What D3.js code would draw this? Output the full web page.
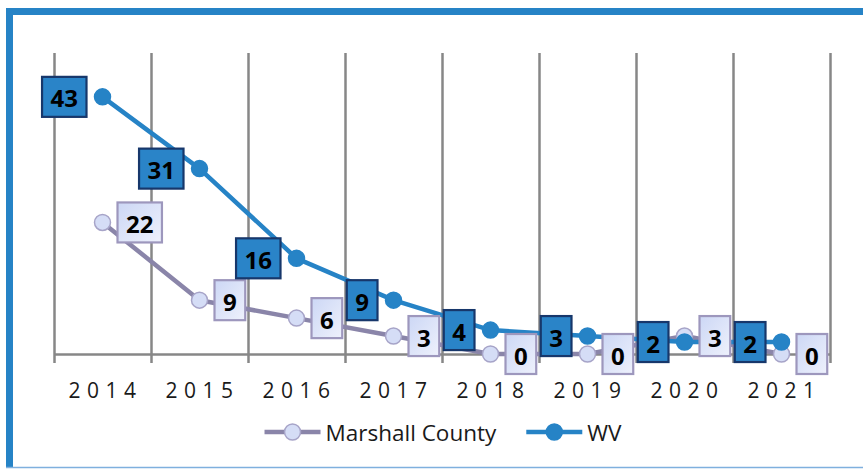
<!DOCTYPE html>
<html>
<head>
<meta charset="utf-8">
<script src="https://cdn.jsdelivr.net/npm/d3@7"></script>
<style>
  body { margin: 0; background: #fff; }
  svg { display: block; }
</style>
</head>
<body>
<div id="chart"></div>
<script>
// data
const years = ['2014', '2015', '2016', '2017', '2018', '2019', '2020', '2021'];
const marshall = [22, 9, 6, 3, 0, 0, 3, 0];
const wv = [43, 31, 16, 9, 4, 3, 2, 2];
const seriesNames = ['Marshall County', 'WV'];

const W = 863, H = 470;
const plotL = 54, plotR = 830, plotT = 55, plotB = 354, gridT = 53;

const svg = d3.select('#chart').append('svg')
    .attr('width', W)
    .attr('height', H);

const defs = svg.append('defs');
const grad = defs.append('linearGradient')
    .attr('id', 'lightBox')
    .attr('x1', 0).attr('y1', 0).attr('x2', 1).attr('y2', 1);
grad.append('stop').attr('offset', '0%').attr('stop-color', '#ccd7f5');
grad.append('stop').attr('offset', '100%').attr('stop-color', '#eef1fc');

// frame: thick top + left, thin bottom
svg.append('path')
    .attr('d', `M9.5,${H - 3} L9.5,11.5 L${W + 5},11.5`)
    .attr('fill', 'none')
    .attr('stroke', '#2683c6')
    .attr('stroke-width', 7);
svg.append('line')
    .attr('x1', 6).attr('x2', W)
    .attr('y1', H - 2.5).attr('y2', H - 2.5)
    .attr('stroke', '#7fb0de')
    .attr('stroke-width', 1.5);

const x = d3.scaleBand()
    .domain(years)
    .range([plotL, plotR]);

const xEdge = d3.scaleLinear()
    .domain([0, years.length])
    .range([plotL, plotR]);

const y = d3.scaleLinear()
    .domain([0, 50])
    .range([plotB, plotT]);

// vertical gridlines between categories (plus tick marks below axis)
svg.append('g')
    .attr('transform', `translate(0,${plotB + 9})`)
    .call(d3.axisTop(xEdge).tickValues(d3.range(years.length + 1)).tickSize(plotB + 9 - gridT).tickFormat(''))
    .call(g => g.select('.domain').remove())
    .selectAll('line')
    .attr('stroke', '#878787')
    .attr('stroke-width', 2.5);

// category axis
svg.append('g')
    .attr('transform', `translate(0,${plotB})`)
    .call(d3.axisBottom(x).tickSize(0).tickPadding(0))
    .call(g => g.select('.domain')
        .attr('stroke', '#878787')
        .attr('stroke-width', 2.5))
    .selectAll('text')
    .attr('dy', 0)
    .attr('y', 44)
    .attr('dx', 3)
    .style('font-family', '"Open Sans", sans-serif')
    .style('font-size', '21px')
    .style('letter-spacing', '6.5px')
    .attr('fill', '#1a1a1a');

const line = d3.line()
    .x((d, i) => x(years[i]) + x.bandwidth() / 2)
    .y(d => y(d));

const series = [
    { name: seriesNames[0], values: marshall, line: '#8a85a9', fill: '#d5ddf6', stroke: '#a7a4c8' },
    { name: seriesNames[1], values: wv, line: '#2683c6', fill: '#2683c6', stroke: '#2683c6' }
];

series.forEach(s => {
    svg.append('path')
        .datum(s.values)
        .attr('d', line)
        .attr('fill', 'none')
        .attr('stroke', s.line)
        .attr('stroke-width', 4.5)
        .attr('stroke-linejoin', 'round');
    svg.append('g')
        .selectAll('circle')
        .data(s.values)
        .enter()
        .append('circle')
        .attr('cx', (d, i) => x(years[i]) + x.bandwidth() / 2)
        .attr('cy', d => y(d))
        .attr('r', 8)
        .attr('fill', s.fill)
        .attr('stroke', s.stroke)
        .attr('stroke-width', 1.5);
});

// data labels (boxes)
function labels(values, side, fill, stroke) {
    const g = svg.append('g');
    values.forEach((v, i) => {
        const px = x(years[i]) + x.bandwidth() / 2;
        const py = y(v);
        const lg = g.append('g');
        const rect = lg.append('rect');
        const t = lg.append('text')
            .text(v)
            .style('font-family', '"Open Sans", sans-serif')
            .style('font-weight', 'bold')
            .style('font-size', '24px')
            .attr('fill', '#000')
            .attr('text-anchor', 'middle')
            .attr('dominant-baseline', 'central');
        const tw = t.node().getComputedTextLength();
        const bw = tw + 17, bh = 40;
        const bx = side < 0 ? px - 16 - bw : px + 15;
        rect.attr('x', bx).attr('y', py - bh / 2)
            .attr('width', bw).attr('height', bh)
            .attr('fill', fill)
            .attr('stroke', stroke)
            .attr('stroke-width', 2.2);
        t.attr('x', bx + bw / 2).attr('y', py + 1);
    });
}
labels(marshall, 1, 'url(#lightBox)', '#9d97bd');
labels(wv, -1, '#2a84c8', '#17376b');

// legend
const legend = svg.append('g');
let lx = 0;
series.forEach((s, i) => {
    const item = legend.append('g').attr('transform', `translate(${lx},0)`);
    item.append('line')
        .attr('x1', 0).attr('x2', 56)
        .attr('y1', 0).attr('y2', 0)
        .attr('stroke', s.line)
        .attr('stroke-width', 4.5);
    item.append('circle')
        .attr('cx', 28).attr('cy', 0).attr('r', 8)
        .attr('fill', s.fill)
        .attr('stroke', s.stroke)
        .attr('stroke-width', 1.5);
    const t = item.append('text')
        .attr('x', 61)
        .attr('y', 0)
        .attr('dominant-baseline', 'central')
        .style('font-family', '"Open Sans", sans-serif')
        .style('font-size', '22.5px')
        .attr('fill', '#1a1a1a')
        .text(s.name);
    lx += 61 + t.node().getComputedTextLength() + 30;
});
const legendW = lx - 30;
legend.attr('transform', `translate(${(plotL + plotR) / 2 - legendW / 2 + 1},432)`);
</script>
</body>
</html>
